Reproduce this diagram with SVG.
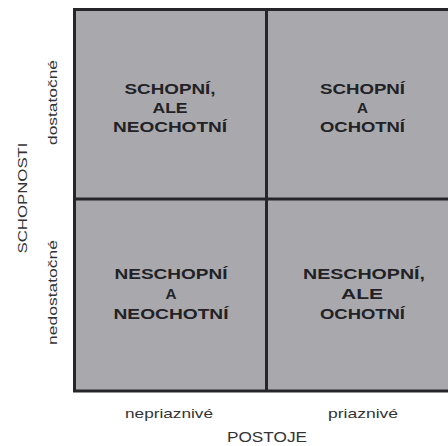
<svg xmlns="http://www.w3.org/2000/svg" width="448" height="446" viewBox="0 0 448 446">
<style>
.q{fill:#a9a9ad}
.ln{stroke:#26262a;stroke-width:3;fill:none}
.t{font-family:"Liberation Sans",Arial,sans-serif;font-weight:bold;font-size:14px;fill:#222226;text-anchor:middle}
.ax{font-family:"Liberation Sans",Arial,sans-serif;font-size:13.5px;fill:#333336;text-anchor:middle}
.ttl{font-family:"Liberation Sans",Arial,sans-serif;font-size:15px;fill:#333336;text-anchor:middle}
</style>
<rect width="448" height="446" fill="#ffffff"/>
<g id="q-top-left">
<rect class="q" x="74.5" y="9.5" width="192" height="190"/>
<text class="t" x="170" y="94" textLength="91" lengthAdjust="spacingAndGlyphs">SCHOPNÍ,</text>
<text class="t" x="170" y="113" textLength="35" lengthAdjust="spacingAndGlyphs">ALE</text>
<text class="t" x="170" y="132" textLength="114" lengthAdjust="spacingAndGlyphs">NEOCHOTNÍ</text>
</g>
<g id="q-top-right">
<rect class="q" x="266.5" y="9.5" width="182" height="190"/>
<text class="t" x="362.5" y="94" textLength="85" lengthAdjust="spacingAndGlyphs">SCHOPNÍ</text>
<text class="t" x="362.5" y="113" textLength="11" lengthAdjust="spacingAndGlyphs">A</text>
<text class="t" x="362.5" y="132" textLength="85" lengthAdjust="spacingAndGlyphs">OCHOTNÍ</text>
</g>
<g id="q-bottom-left">
<rect class="q" x="74.5" y="199.5" width="192" height="191"/>
<text class="t" x="171" y="279" textLength="113" lengthAdjust="spacingAndGlyphs">NESCHOPNÍ</text>
<text class="t" x="171" y="299" textLength="11" lengthAdjust="spacingAndGlyphs">A</text>
<text class="t" x="171" y="319" textLength="115" lengthAdjust="spacingAndGlyphs">NEOCHOTNÍ</text>
</g>
<g id="q-bottom-right">
<rect class="q" x="266.5" y="199.5" width="182" height="191"/>
<text class="t" x="364" y="279" textLength="122" lengthAdjust="spacingAndGlyphs">NESCHOPNÍ,</text>
<text class="t" x="362" y="299" textLength="42" lengthAdjust="spacingAndGlyphs">ALE</text>
<text class="t" x="362.5" y="319" textLength="85" lengthAdjust="spacingAndGlyphs">OCHOTNÍ</text>
</g>
<g id="grid">
<path class="ln" d="M74.5 9.5H448M74.5 8V392.5M73 391H448M74.5 199H448M266.5 9.5V391"/>
</g>
<g id="axis-y">
<text class="ax" transform="translate(27,198) rotate(-90)" font-size="14" textLength="111" lengthAdjust="spacingAndGlyphs">SCHOPNOSTI</text>
<text class="ax" transform="translate(57,102.5) rotate(-90)" textLength="85" lengthAdjust="spacingAndGlyphs">dostatočné</text>
<text class="ax" transform="translate(57,292.5) rotate(-90)" textLength="105" lengthAdjust="spacingAndGlyphs">nedostatočné</text>
</g>
<g id="axis-x">
<text class="ax" x="169" y="418" textLength="88" lengthAdjust="spacingAndGlyphs">nepriaznivé</text>
<text class="ax" x="363" y="418" textLength="70" lengthAdjust="spacingAndGlyphs">priaznivé</text>
<text class="ttl" x="267" y="442" textLength="80" lengthAdjust="spacingAndGlyphs">POSTOJE</text>
</g>
</svg>
